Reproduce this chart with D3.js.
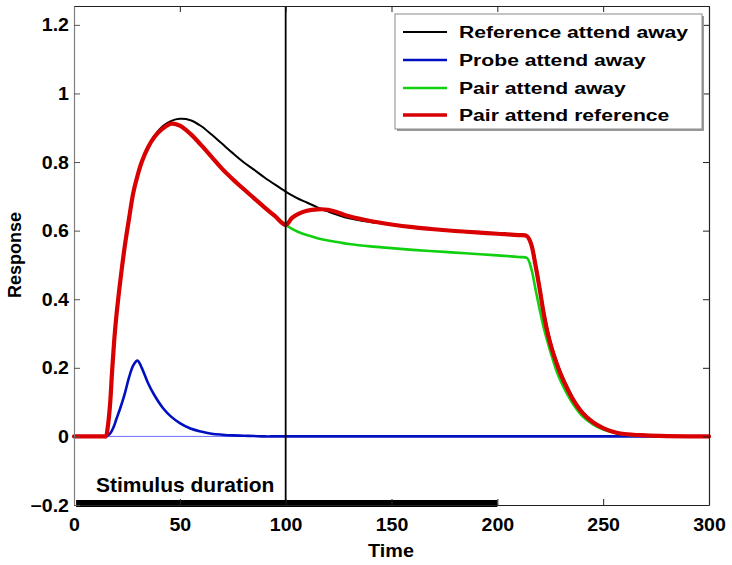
<!DOCTYPE html>
<html><head><meta charset="utf-8">
<script src="https://cdn.jsdelivr.net/npm/d3@7"></script>
<style>
body{margin:0;background:#fff}
svg{display:block}
text{font-family:"Liberation Sans",Arial,Helvetica,sans-serif;font-weight:bold;fill:#000}
</style>
</head><body>
<svg id="chart" width="732" height="565"></svg>
<script>
// ---------------- data ----------------
const time = [0,10,14,15,16,17,18,19,20,22,24,26,28,30,32,35,38,42,46,50,55,60,65,70,75,80,85,90,95,100,103,106,110,115,120,125,130,140,150,160,170,180,190,200,210,214,216,218,220,222,224,226,228,230,233,236,240,245,250,255,260,270,280,290,300];

const referenceAttendAway = [0,0,0,0,0.03,0.09,0.19,0.28,0.35,0.46,0.555,0.635,0.71,0.76,0.80,0.845,0.877,0.905,0.92,0.926,0.922,0.905,0.88,0.853,0.826,0.80,0.778,0.755,0.734,0.714,0.703,0.693,0.682,0.668,0.656,0.645,0.636,0.625,0.617,0.609,0.603,0.598,0.594,0.59,0.586,0.584,0.565,0.51,0.44,0.365,0.305,0.258,0.22,0.187,0.146,0.11,0.074,0.044,0.025,0.014,0.008,0.003,0.001,0,0];

const probeAttendAway = [0,0,0,0,0.003,0.008,0.018,0.032,0.05,0.085,0.125,0.172,0.207,0.221,0.2,0.155,0.12,0.083,0.057,0.039,0.023,0.014,0.008,0.005,0.003,0.002,0.001,0,0,0,0,0,0,0,0,0,0,0,0,0,0,0,0,0,0,0,0,0,0,0,0,0,0,0,0,0,0,0,0,0,0,0,0,0,0];

const pairAttendAway = [0,0,0,0,0.03,0.09,0.19,0.28,0.35,0.46,0.555,0.635,0.71,0.76,0.80,0.843,0.873,0.898,0.912,0.906,0.882,0.85,0.815,0.78,0.75,0.722,0.695,0.668,0.642,0.617,0.605,0.596,0.587,0.578,0.571,0.566,0.561,0.554,0.549,0.544,0.54,0.536,0.532,0.528,0.523,0.52,0.49,0.43,0.37,0.315,0.27,0.228,0.19,0.16,0.123,0.092,0.06,0.036,0.02,0.011,0.006,0.002,0.001,0,0];

const pairAttendReference = [0,0,0,0,0.03,0.09,0.19,0.28,0.35,0.46,0.555,0.635,0.71,0.76,0.80,0.843,0.873,0.898,0.912,0.906,0.882,0.85,0.815,0.78,0.75,0.722,0.695,0.668,0.642,0.617,0.637,0.649,0.658,0.662,0.661,0.652,0.642,0.628,0.618,0.61,0.604,0.599,0.595,0.591,0.587,0.584,0.56,0.5,0.43,0.355,0.295,0.25,0.213,0.18,0.14,0.105,0.07,0.042,0.024,0.013,0.007,0.003,0.001,0,0];

const seriesNames = ["Reference attend away","Probe attend away","Pair attend away","Pair attend reference"];
const seriesColors = ["#000000","#0010c0","#10d010","#d80000"];
const seriesWidths = [2,2.6,2.6,4.2];

const xTicks = [0,50,100,150,200,250,300];
const yTicks = [-0.2,0,0.2,0.4,0.6,0.8,1,1.2];
const xDomain = [0,300];
const yDomain = [-0.2,1.255];
const probeOnset = 100;
const stimulus = {label:"Stimulus duration", start:1, end:200};
const xLabel = "Time", yLabel = "Response";

[referenceAttendAway,probeAttendAway,pairAttendAway,pairAttendReference].forEach((s,i)=>{
  if(s.length!==time.length) throw new Error("length mismatch series "+i+": "+s.length+" vs "+time.length);
});

// ---------------- chart ----------------
const svg = d3.select("#chart");
const L=74, R=709, T=6, B=505;
const x = d3.scaleLinear().domain(xDomain).range([L,R]);
const y = d3.scaleLinear().domain(yDomain).range([B,T]);

function stext(g, px, py, str, size, sx, anchor){
  return g.append("text")
    .attr("transform",`translate(${px},${py}) scale(${sx},1)`)
    .attr("text-anchor",anchor)
    .style("font-size",size+"px")
    .text(str);
}

// thin baseline at zero
svg.append("line").attr("x1",x(0)).attr("x2",x(300)).attr("y1",y(0)).attr("y2",y(0))
  .attr("stroke","#6e6eff").attr("stroke-width",1);

// series
const allSeries = [referenceAttendAway,probeAttendAway,pairAttendAway,pairAttendReference];
const line = d3.line().x((d,i)=>x(time[i])).y(d=>y(d)).curve(d3.curveCatmullRom.alpha(0.5));
const plot = svg.append("g");
allSeries.forEach((s,i)=>{
  plot.append("path").datum(s).attr("d",line)
    .attr("fill","none").attr("stroke",seriesColors[i]).attr("stroke-width",seriesWidths[i])
    .attr("stroke-linejoin","round").attr("stroke-linecap","round");
});

// probe onset line
svg.append("line").attr("x1",x(probeOnset)).attr("x2",x(probeOnset)).attr("y1",T).attr("y2",B)
  .attr("stroke","#000").attr("stroke-width",1.8);

// stimulus bar
svg.append("rect").attr("x",x(stimulus.start)).attr("width",x(stimulus.end)-x(stimulus.start))
  .attr("y",y(-0.2)-5).attr("height",7).attr("fill","#000");
stext(svg, 96, 492, stimulus.label, 20, 1.05, "start");

// axes
const tickLen = 6;
const gb = svg.append("g").attr("transform",`translate(0,${B})`)
  .call(d3.axisBottom(x).tickValues(xTicks).tickSize(-tickLen).tickSizeOuter(0).tickFormat(d3.format("d")));
const gt = svg.append("g").attr("transform",`translate(0,${T})`)
  .call(d3.axisTop(x).tickValues(xTicks).tickSize(-tickLen).tickSizeOuter(0).tickFormat(""));
const gl = svg.append("g").attr("transform",`translate(${L},0)`)
  .call(d3.axisLeft(y).tickValues(yTicks).tickSize(-tickLen).tickSizeOuter(0).tickFormat(d=>d3.format("")(Math.round(d*10)/10)));
const gr = svg.append("g").attr("transform",`translate(${R},0)`)
  .call(d3.axisRight(y).tickValues(yTicks).tickSize(-tickLen).tickSizeOuter(0).tickFormat(""));

[gb,gt,gr].forEach(g=>{ g.select(".domain").attr("stroke","#222").attr("stroke-width",1.2); g.selectAll(".tick line").attr("stroke","#222"); });
gl.select(".domain").attr("stroke","#808080").attr("stroke-width",1.2);
gl.selectAll(".tick line").attr("stroke","#555");
[gb,gt,gl,gr].forEach(g=>g.attr("font-family",null).attr("font-size",null));

gb.selectAll(".tick text").attr("y",null).attr("dy",null)
  .attr("transform","translate(0,26) scale(1.12,1)").style("font-size","17.5px").attr("fill","#000");
gl.selectAll(".tick text").attr("x",null).attr("dy",null)
  .attr("transform","translate(-5,6) scale(1.12,1)").style("font-size","17.5px").attr("fill","#000");

// axis labels
stext(svg, 391, 557, xLabel, 18, 1.1, "middle");
svg.append("text")
  .attr("transform","translate(21,255) rotate(-90)")
  .attr("text-anchor","middle").style("font-size","18px").text(yLabel);

// legend
const lg = svg.append("g");
lg.append("rect").attr("x",397).attr("y",16).attr("width",307).attr("height",115).attr("fill","#9a9a9a");
lg.append("rect").attr("x",395).attr("y",14).attr("width",307).attr("height",115).attr("fill","#fff").attr("stroke","#8a8a8a").attr("stroke-width",1);
const rowY = [32,60,88,115];
seriesNames.forEach((n,i)=>{
  lg.append("line").attr("x1",403).attr("x2",447).attr("y1",rowY[i]).attr("y2",rowY[i])
    .attr("stroke",seriesColors[i]).attr("stroke-width",Math.min(seriesWidths[i],3.5));
  stext(lg, 459, rowY[i]+6, n, 17.2, 1.23, "start");
});
</script>
</body></html>
